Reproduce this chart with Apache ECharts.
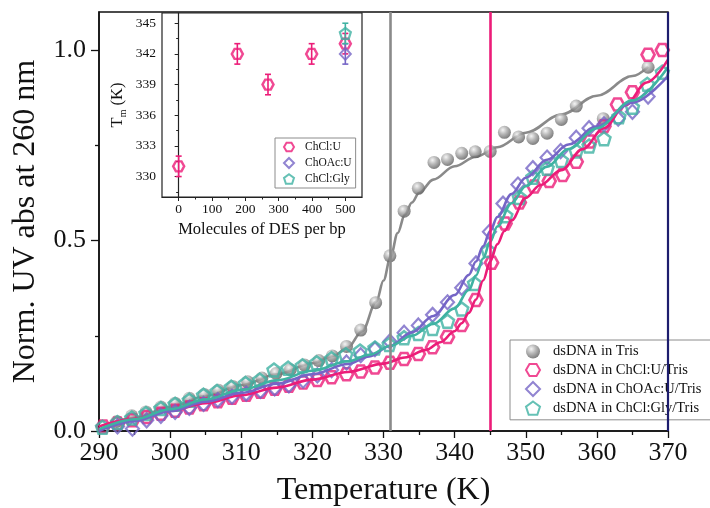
<!DOCTYPE html>
<html>
<head>
<meta charset="utf-8">
<script src="https://cdn.jsdelivr.net/npm/echarts@6/dist/echarts.min.js"></script>
<style>
  html, body { margin: 0; padding: 0; background: #fff; }
  #chart { width: 710px; height: 508px; }
</style>
</head>
<body>
<div id="chart"></div>
<script>
// ---- Melting curves: [temperature (K), normalised absorbance at 260 nm] ----
const trisPoints = [
  [292.5,0.025],[294.6,0.040],[296.6,0.050],[298.7,0.063],[300.7,0.073],[302.7,0.086],
  [304.8,0.096],[306.8,0.107],[308.8,0.117],[310.9,0.129],[312.9,0.139],[314.9,0.151],
  [316.9,0.161],[318.9,0.173],[320.9,0.185],[322.8,0.197],[324.8,0.222],[326.8,0.265],
  [328.9,0.337],[330.9,0.460],[332.9,0.577],[334.9,0.637],[337.1,0.705],[339.0,0.713],
  [341.0,0.729],[342.9,0.733],[345.0,0.734],[347.0,0.784],[349.0,0.772],[351.0,0.768],
  [353.0,0.782],[355.0,0.818],[357.1,0.853],[360.9,0.820],[367.2,0.955]
];
const trisFit = [
  [291,0.012],[295,0.035],[300,0.063],[305,0.092],[310,0.120],[315,0.149],[320,0.178],
  [323,0.198],[325,0.220],[327,0.262],[329,0.340],[330,0.395],[331,0.458],[332,0.520],
  [333,0.568],[334,0.600],[335,0.625],[337,0.660],[340,0.695],[343,0.720],[346,0.745],
  [350,0.783],[355,0.831],[360,0.880],[365,0.932],[367.2,0.956]
];

const chclUPoints = [
  [290.6,0.012],[292.6,0.020],[294.7,0.028],[296.7,0.037],[298.7,0.045],[300.7,0.053],
  [302.7,0.062],[304.7,0.070],[306.7,0.078],[308.7,0.087],[310.7,0.095],[312.7,0.103],
  [314.7,0.111],[316.7,0.119],[318.7,0.127],[320.7,0.134],[322.7,0.141],[324.8,0.149],
  [326.8,0.156],[328.8,0.167],[330.9,0.179],[332.9,0.189],[334.9,0.202],[336.9,0.220],
  [339.0,0.247],[341.0,0.278],[343.0,0.344],[345.2,0.442],[347.1,0.545],[349.1,0.600],
  [351.2,0.642],[353.3,0.656],[355.2,0.672],[357.1,0.707],[359.0,0.760],[361.0,0.800],
  [362.9,0.857],[365.0,0.889],[367.2,0.988],[369.2,1.000]
];
const chclUFit = [
  [290,0.012],[295,0.032],[300,0.053],[305,0.073],[310,0.094],[315,0.114],[320,0.135],
  [325,0.155],[330,0.177],[333,0.193],[336,0.213],[338,0.233],[340,0.262],[341,0.283],
  [342,0.310],[343,0.345],[344,0.395],[345,0.445],[346,0.490],[347,0.525],[348,0.553],
  [350,0.612],[352,0.645],[355,0.685],[358,0.740],[361,0.795],[364,0.855],[367,0.915],
  [370,0.975]
];

const choacUPoints = [
  [292.6,0.012],[294.7,0.006],[296.7,0.028],[298.7,0.040],[300.7,0.050],[302.7,0.061],
  [304.7,0.071],[306.7,0.081],[308.7,0.090],[310.7,0.098],[312.7,0.105],[314.7,0.112],
  [316.7,0.120],[318.7,0.132],[320.7,0.146],[322.7,0.160],[324.8,0.180],[326.8,0.199],
  [328.8,0.215],[330.9,0.235],[332.9,0.258],[334.9,0.277],[336.9,0.305],[339.0,0.338],
  [341.0,0.376],[343.0,0.440],[344.9,0.523],[346.8,0.597],[348.9,0.647],[351.0,0.690],
  [353.0,0.718],[354.9,0.735],[357.1,0.770],[358.9,0.795],[361.0,0.805],[363.0,0.820],
  [365.0,0.838],[367.2,0.878]
];
const choacUFit = [
  [290,0.000],[295,0.026],[300,0.052],[305,0.077],[310,0.100],[315,0.124],[320,0.149],
  [325,0.176],[328,0.196],[331,0.224],[334,0.259],[337,0.302],[340,0.357],[342,0.410],
  [343,0.445],[344,0.485],[345,0.525],[346,0.562],[348,0.622],[350,0.665],[353,0.712],
  [356,0.752],[360,0.800],[365,0.862],[370,0.932]
];

const chclGlyPoints = [
  [290.5,0.010],[292.6,0.022],[294.6,0.034],[296.6,0.046],[298.7,0.059],[300.7,0.070],
  [302.7,0.081],[304.7,0.094],[306.6,0.104],[308.6,0.115],[310.6,0.125],[312.6,0.134],
  [314.6,0.160],[316.6,0.165],[318.6,0.171],[320.6,0.179],[322.7,0.190],[324.7,0.200],
  [326.7,0.210],[328.8,0.218],[330.8,0.227],[332.9,0.245],[334.9,0.256],[336.9,0.269],
  [339.0,0.288],[341.0,0.320],[342.8,0.387],[344.7,0.474],[347.2,0.565],[349.1,0.613],
  [351.0,0.666],[353.0,0.690],[355.0,0.710],[357.1,0.735],[358.9,0.748],[361.0,0.767],
  [363.1,0.825],[365.0,0.850],[367.1,0.910],[369.2,0.942]
];
const chclGlyFit = [
  [290,0.005],[295,0.031],[300,0.057],[305,0.083],[310,0.108],[315,0.133],[320,0.158],
  [325,0.183],[328,0.200],[331,0.224],[334,0.250],[337,0.281],[340,0.322],[342,0.370],
  [343,0.408],[344,0.453],[345,0.497],[346,0.537],[348,0.598],[350,0.643],[353,0.694],
  [356,0.740],[360,0.795],[365,0.868],[370,0.955]
];

// Melting temperatures marked with vertical lines
const meltMarks = [331, 345, 370];

// ---- Inset: Tm against DES molecules per base pair ----
const desPerBp      = [0, 176, 268, 399, 500];
const tmChClU       = [331, 342, 339, 342, 343];
const tmErrChClU    = [1, 1, 1, 1, 1];
const desPerBpOther = [500];
const tmChOAcU      = [342];
const tmErrChOAcU   = [1];
const tmChClGly     = [344];
const tmErrChClGly  = [1];

// Tick values
const mainYTicks  = [0, 0.5, 1.0];
const mainYMinor  = [0.25, 0.75];
const insetXTicks = [0, 100, 200, 300, 400, 500];
const insetXMinor = [50, 150, 250, 350, 450];
const insetYTicks = [330, 333, 336, 339, 342, 345];
const insetYMinor = [328.5, 331.5, 334.5, 337.5, 340.5, 343.5];

// ---- Styling ----
const FONT = "'Liberation Serif', 'Times New Roman', serif";
const INK = '#111';
const C_GRAY = '#8a8a8a';
const C_PINK = '#ec1c78';
const C_PURPLE = '#7565c6';
const C_TEAL = '#3fb2a2';
const C_NAVY = '#1d1d6e';

const HEXAGON = 'path://M-1,0 L-0.5,-0.866 L0.5,-0.866 L1,0 L0.5,0.866 L-0.5,0.866 Z';
const PENTAGON = 'path://M0,-1 L0.951,-0.309 L0.588,0.809 L-0.588,0.809 L-0.951,-0.309 Z';

const sphere = {
  type: 'radial', x: 0.38, y: 0.32, r: 0.72,
  colorStops: [
    { offset: 0, color: '#f2f2f2' },
    { offset: 0.45, color: '#a6a6a6' },
    { offset: 1, color: '#585858' }
  ]
};

function hollow(color, width) {
  return { color: 'rgba(255,255,255,0)', borderColor: color, borderWidth: width };
}

function fitLine(data, color, z) {
  return {
    type: 'line', data, xAxisIndex: 0, yAxisIndex: 0,
    showSymbol: false, symbol: 'none', smooth: 0.35, smoothMonotone: 'x',
    lineStyle: { color, width: 2.6 }, silent: true, z
  };
}

function errorBars(xs, ys, errs, color) {
  return {
    type: 'custom', xAxisIndex: 1, yAxisIndex: 2, silent: true, z: 3,
    encode: { x: 0, y: [1, 2] },
    data: xs.map((x, i) => [x, ys[i] - errs[i], ys[i] + errs[i]]),
    renderItem(params, api) {
      const lo = api.coord([api.value(0), api.value(1)]);
      const hi = api.coord([api.value(0), api.value(2)]);
      const w = 3;
      const st = { stroke: color, lineWidth: 1.6 };
      return {
        type: 'group',
        children: [
          { type: 'line', shape: { x1: lo[0], y1: lo[1], x2: hi[0], y2: hi[1] }, style: st },
          { type: 'line', shape: { x1: lo[0] - w, y1: lo[1], x2: lo[0] + w, y2: lo[1] }, style: st },
          { type: 'line', shape: { x1: hi[0] - w, y1: hi[1], x2: hi[0] + w, y2: hi[1] }, style: st }
        ]
      };
    }
  };
}

const axisLine = { show: true, lineStyle: { color: INK, width: 1.5 } };
const tickStyle = { color: INK, width: 1.3 };

const chart = echarts.init(document.getElementById('chart'), null, { renderer: 'canvas' });

chart.setOption({
  animation: false,
  backgroundColor: '#fff',
  textStyle: { fontFamily: FONT },
  grid: [
    { left: 99, right: 42, top: 12, bottom: 77, show: true, borderColor: INK, borderWidth: 1.5,
      backgroundColor: 'transparent', outerBoundsMode: 'none' },
    { left: 162, right: 348, top: 13, bottom: 311, show: true, borderColor: '#222', borderWidth: 1.2,
      backgroundColor: 'transparent', outerBoundsMode: 'none' }
  ],
  xAxis: [
    {
      gridIndex: 0, type: 'value', min: 290, max: 370, interval: 10, position: 'bottom',
      axisLine,
      axisTick: { show: true, inside: false, length: 7, lineStyle: tickStyle },
      minorTick: { show: true, splitNumber: 2, length: 4, lineStyle: tickStyle },
      splitLine: { show: false }, minorSplitLine: { show: false },
      axisLabel: { fontFamily: FONT, fontSize: 26, color: INK, margin: 9 },
      name: 'Temperature (K)', nameLocation: 'middle', nameGap: 44,
      nameTextStyle: { fontFamily: FONT, fontSize: 32, color: INK }
    },
    {
      gridIndex: 1, type: 'value', min: -50, max: 550, position: 'bottom',
      axisLine: { show: true, lineStyle: { color: '#222', width: 1.2 } },
      axisTick: { show: true, inside: false, length: 4, customValues: insetXTicks, lineStyle: { color: '#222', width: 1 } },
      splitLine: { show: false },
      axisLabel: { customValues: insetXTicks, fontFamily: FONT, fontSize: 13.5, color: INK, margin: 5 },
      name: 'Molecules of DES per bp', nameLocation: 'middle', nameGap: 24,
      nameTextStyle: { fontFamily: FONT, fontSize: 16.5, color: INK }
    },
    {
      gridIndex: 1, type: 'value', min: -50, max: 550, position: 'bottom',
      axisLine: { show: false },
      axisTick: { show: true, inside: false, length: 2.5, customValues: insetXMinor, lineStyle: { color: '#222', width: 1 } },
      splitLine: { show: false },
      axisLabel: { show: false }
    }
  ],
  yAxis: [
    {
      gridIndex: 0, type: 'value', min: 0, max: 1.1, position: 'left',
      axisLine,
      axisTick: { show: true, inside: false, length: 8, customValues: mainYTicks, lineStyle: tickStyle },
      splitLine: { show: false },
      axisLabel: { customValues: mainYTicks, formatter: v => v.toFixed(1),
        fontFamily: FONT, fontSize: 26, color: INK, margin: 13 },
      name: 'Norm. UV abs at 260 nm', nameLocation: 'middle', nameGap: 57, nameRotate: 90,
      nameTextStyle: { fontFamily: FONT, fontSize: 32, color: INK }
    },
    {
      gridIndex: 0, type: 'value', min: 0, max: 1.1, position: 'left',
      axisLine: { show: false },
      axisTick: { show: true, inside: false, length: 4, customValues: mainYMinor, lineStyle: tickStyle },
      splitLine: { show: false },
      axisLabel: { show: false }
    },
    {
      gridIndex: 1, type: 'value', min: 328, max: 346, position: 'left',
      axisLine: { show: true, lineStyle: { color: '#222', width: 1.2 } },
      axisTick: { show: true, inside: false, length: 4, customValues: insetYTicks, lineStyle: { color: '#222', width: 1 } },
      splitLine: { show: false },
      axisLabel: { customValues: insetYTicks, fontFamily: FONT, fontSize: 13.5, color: INK, margin: 6 },
      name: '{t|T}{s|m}{t| (K)}', nameLocation: 'middle', nameGap: 34, nameRotate: 90,
      nameTextStyle: {
        rich: {
          t: { fontFamily: FONT, fontSize: 16.5, color: INK, lineHeight: 20 },
          s: { fontFamily: FONT, fontSize: 10, color: INK, lineHeight: 8, verticalAlign: 'bottom' }
        }
      }
    },
    {
      gridIndex: 1, type: 'value', min: 328, max: 346, position: 'left',
      axisLine: { show: false },
      axisTick: { show: true, inside: false, length: 2.5, customValues: insetYMinor, lineStyle: { color: '#222', width: 1 } },
      splitLine: { show: false },
      axisLabel: { show: false }
    }
  ],
  legend: [
    {
      data: ['dsDNA in Tris', 'dsDNA in ChCl:U/Tris', 'dsDNA in ChOAc:U/Tris', 'dsDNA in ChCl:Gly/Tris'],
      orient: 'vertical', left: 510, top: 340,
      itemWidth: 14, itemHeight: 14, itemGap: 3.5,
      padding: [4, 10, 4, 15],
      backgroundColor: '#fff', borderColor: '#8c8c8c', borderWidth: 1,
      textStyle: { fontFamily: FONT, fontSize: 14.5, color: INK, padding: [0, 0, 0, 8] },
      selectedMode: false
    },
    {
      data: ['ChCl:U', 'ChOAc:U', 'ChCl:Gly'],
      orient: 'vertical', left: 275, top: 138,
      itemWidth: 10, itemHeight: 10, itemGap: 4,
      padding: [3, 4, 3, 8],
      backgroundColor: '#fff', borderColor: '#8c8c8c', borderWidth: 1,
      textStyle: { fontFamily: FONT, fontSize: 11.5, color: INK, padding: [0, 0, 0, 6] },
      selectedMode: false
    }
  ],
  series: [
    // vertical guides at the melting temperatures
    {
      type: 'line', data: [], xAxisIndex: 0, yAxisIndex: 0, silent: true, z: 1,
      markLine: {
        silent: true, symbol: 'none', label: { show: false },
        data: [
          { xAxis: meltMarks[0], lineStyle: { color: C_GRAY, width: 2.6, type: 'solid' } },
          { xAxis: meltMarks[1], lineStyle: { color: C_PINK, width: 2.6, type: 'solid' } },
          { xAxis: meltMarks[2], lineStyle: { color: C_NAVY, width: 2.2, type: 'solid' } }
        ]
      }
    },
    fitLine(trisFit, C_GRAY, 2),
    {
      name: 'dsDNA in Tris', type: 'scatter', data: trisPoints, xAxisIndex: 0, yAxisIndex: 0,
      symbol: 'circle', symbolSize: 13, itemStyle: { color: sphere }, z: 3
    },
    {
      name: 'dsDNA in ChCl:U/Tris', type: 'scatter', data: chclUPoints, xAxisIndex: 0, yAxisIndex: 0,
      symbol: HEXAGON, symbolSize: [13, 12], itemStyle: hollow(C_PINK, 2.6), z: 3
    },
    {
      name: 'dsDNA in ChOAc:U/Tris', type: 'scatter', data: choacUPoints, xAxisIndex: 0, yAxisIndex: 0,
      symbol: 'diamond', symbolSize: [13, 14], itemStyle: hollow(C_PURPLE, 2.2), z: 3
    },
    {
      name: 'dsDNA in ChCl:Gly/Tris', type: 'scatter', data: chclGlyPoints, xAxisIndex: 0, yAxisIndex: 0,
      symbol: PENTAGON, symbolSize: [13, 13], itemStyle: hollow(C_TEAL, 2.5), z: 3
    },
    fitLine(chclUFit, C_PINK, 4),
    fitLine(choacUFit, C_PURPLE, 4),
    fitLine(chclGlyFit, C_TEAL, 4),

    // inset
    errorBars(desPerBp, tmChClU, tmErrChClU, C_PINK),
    errorBars(desPerBpOther, tmChOAcU, tmErrChOAcU, C_PURPLE),
    errorBars(desPerBpOther, tmChClGly, tmErrChClGly, C_TEAL),
    {
      name: 'ChCl:U', type: 'scatter', xAxisIndex: 1, yAxisIndex: 2,
      data: desPerBp.map((x, i) => [x, tmChClU[i]]),
      symbol: HEXAGON, symbolSize: [11, 10], itemStyle: hollow(C_PINK, 2.4), z: 4
    },
    {
      name: 'ChOAc:U', type: 'scatter', xAxisIndex: 1, yAxisIndex: 2,
      data: desPerBpOther.map((x, i) => [x, tmChOAcU[i]]),
      symbol: 'diamond', symbolSize: [11, 12], itemStyle: hollow(C_PURPLE, 2), z: 4
    },
    {
      name: 'ChCl:Gly', type: 'scatter', xAxisIndex: 1, yAxisIndex: 2,
      data: desPerBpOther.map((x, i) => [x, tmChClGly[i]]),
      symbol: PENTAGON, symbolSize: [11, 11], itemStyle: hollow(C_TEAL, 2.2), z: 4
    }
  ]
});
</script>
</body>
</html>
